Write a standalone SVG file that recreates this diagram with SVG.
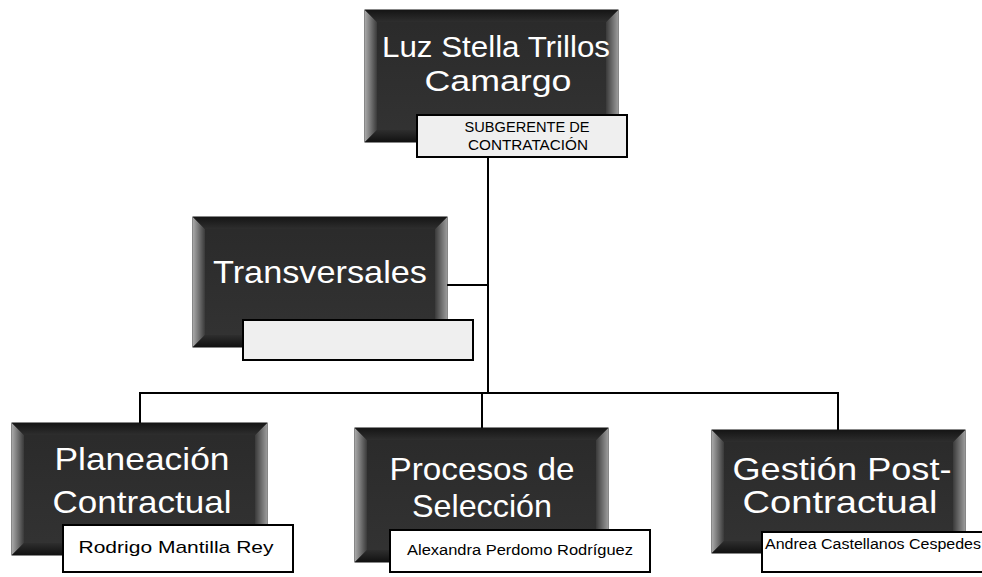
<svg xmlns="http://www.w3.org/2000/svg" width="982" height="577" viewBox="0 0 982 577">
<defs>
<linearGradient id="gL" x1="0" y1="0" x2="1" y2="0"><stop offset="0" stop-color="#a8a8a8"/><stop offset="1" stop-color="#3a3a3a"/></linearGradient>
<linearGradient id="gR" x1="0" y1="0" x2="1" y2="0"><stop offset="0" stop-color="#3a3a3a"/><stop offset="1" stop-color="#9a9a9a"/></linearGradient>
<linearGradient id="gT" x1="0" y1="0" x2="0" y2="1"><stop offset="0" stop-color="#151515"/><stop offset="1" stop-color="#2e2e2e"/></linearGradient>
<linearGradient id="gB" x1="0" y1="0" x2="0" y2="1"><stop offset="0" stop-color="#2e2e2e"/><stop offset="1" stop-color="#111"/></linearGradient>
<linearGradient id="gF" x1="0" y1="0" x2="0" y2="1"><stop offset="0" stop-color="#2a2a2a"/><stop offset="1" stop-color="#333"/></linearGradient>
</defs>
<style>
.box{fill:url(#gF);stroke:#111;stroke-width:1}
.bl{fill:url(#gL)}
.br{fill:url(#gR)}
.bt{fill:url(#gT)}
.bb{fill:url(#gB)}
.main{font-family:"Liberation Sans",Arial,sans-serif;fill:#fff;text-anchor:middle}
.sub{fill:#fff;stroke:#000;stroke-width:2}
.subg{fill:#efefef;stroke:#000;stroke-width:2}
.st{font-family:"Liberation Sans",Arial,sans-serif;fill:#000;text-anchor:middle}
.conn{stroke:#000;stroke-width:2;fill:none}
</style>
<g id="connectors">
<line class="conn" x1="488" y1="157" x2="488" y2="393"/>
<line class="conn" x1="447" y1="285" x2="488" y2="285"/>
<line class="conn" x1="139" y1="393" x2="839" y2="393"/>
<line class="conn" x1="140" y1="393" x2="140" y2="423"/>
<line class="conn" x1="482" y1="393" x2="482" y2="428"/>
<line class="conn" x1="838" y1="393" x2="838" y2="430"/>
</g>
<g id="node-luz">
<rect class="box" x="365" y="10" width="253" height="132"/>
<polygon class="bl" points="365,10 377,22 377,130 365,142"/>
<polygon class="br" points="618,10 606,22 606,130 618,142"/>
<polygon class="bt" points="365,10 618,10 606,22 377,22"/>
<polygon class="bb" points="365,142 618,142 606,130 377,130"/>
<text class="main" x="496" y="57" font-size="30" textLength="228" lengthAdjust="spacingAndGlyphs">Luz Stella Trillos</text>
<text class="main" x="498" y="91" font-size="30" textLength="147" lengthAdjust="spacingAndGlyphs">Camargo</text>
<rect class="subg" x="417" y="115" width="210" height="42"/>
<text class="st" x="527" y="132" font-size="14" textLength="125" lengthAdjust="spacingAndGlyphs">SUBGERENTE DE</text>
<text class="st" x="528" y="150" font-size="14" textLength="120" lengthAdjust="spacingAndGlyphs">CONTRATACIÓN</text>
</g>
<g id="node-transversales">
<rect class="box" x="193" y="217" width="254" height="130"/>
<polygon class="bl" points="193,217 205,229 205,335 193,347"/>
<polygon class="br" points="447,217 435,229 435,335 447,347"/>
<polygon class="bt" points="193,217 447,217 435,229 205,229"/>
<polygon class="bb" points="193,347 447,347 435,335 205,335"/>
<text class="main" x="320" y="283" font-size="32" textLength="214" lengthAdjust="spacingAndGlyphs">Transversales</text>
<rect class="subg" x="243" y="320" width="230" height="40"/>
</g>
<g id="node-planeacion">
<rect class="box" x="12" y="423" width="255" height="132"/>
<polygon class="bl" points="12,423 24,435 24,543 12,555"/>
<polygon class="br" points="267,423 255,435 255,543 267,555"/>
<polygon class="bt" points="12,423 267,423 255,435 24,435"/>
<polygon class="bb" points="12,555 267,555 255,543 24,543"/>
<text class="main" x="142" y="470" font-size="32" textLength="175" lengthAdjust="spacingAndGlyphs">Planeación</text>
<text class="main" x="142" y="513" font-size="32" textLength="179" lengthAdjust="spacingAndGlyphs">Contractual</text>
<rect class="sub" x="63" y="525" width="230" height="47"/>
<text class="st" x="176" y="553" font-size="17" textLength="195" lengthAdjust="spacingAndGlyphs">Rodrigo Mantilla Rey</text>
</g>
<g id="node-procesos">
<rect class="box" x="355" y="428" width="253" height="134"/>
<polygon class="bl" points="355,428 367,440 367,550 355,562"/>
<polygon class="br" points="608,428 596,440 596,550 608,562"/>
<polygon class="bt" points="355,428 608,428 596,440 367,440"/>
<polygon class="bb" points="355,562 608,562 596,550 367,550"/>
<text class="main" x="482" y="480" font-size="32" textLength="185" lengthAdjust="spacingAndGlyphs">Procesos de</text>
<text class="main" x="482" y="517" font-size="32" textLength="140" lengthAdjust="spacingAndGlyphs">Selección</text>
<rect class="sub" x="390" y="530" width="260" height="42"/>
<text class="st" x="520" y="555" font-size="14" textLength="226" lengthAdjust="spacingAndGlyphs">Alexandra Perdomo Rodríguez</text>
</g>
<g id="node-gestion">
<rect class="box" x="712" y="430" width="253" height="123"/>
<polygon class="bl" points="712,430 724,442 724,541 712,553"/>
<polygon class="br" points="965,430 953,442 953,541 965,553"/>
<polygon class="bt" points="712,430 965,430 953,442 724,442"/>
<polygon class="bb" points="712,553 965,553 953,541 724,541"/>
<text class="main" x="842" y="480" font-size="32" textLength="219" lengthAdjust="spacingAndGlyphs">Gestión Post-</text>
<text class="main" x="840" y="513" font-size="32" textLength="195" lengthAdjust="spacingAndGlyphs">Contractual</text>
<rect class="sub" x="762" y="532" width="224" height="40"/>
<text class="st" x="873" y="549" font-size="14" textLength="216" lengthAdjust="spacingAndGlyphs">Andrea Castellanos Cespedes</text>
</g>
</svg>
